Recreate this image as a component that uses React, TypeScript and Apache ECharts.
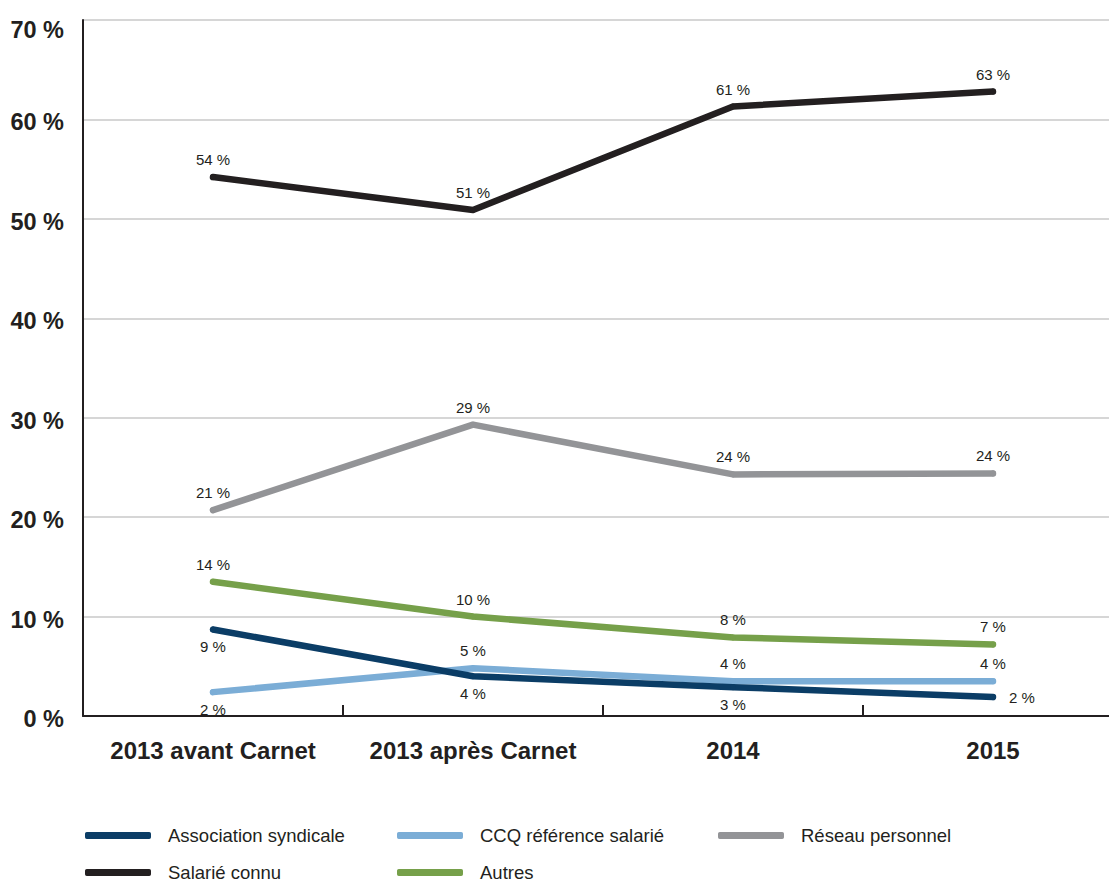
import React, { useEffect, useRef } from "react";
import * as echarts from "echarts";

const categories = ["2013 avant Carnet", "2013 après Carnet", "2014", "2015"];
const seriesNames = [
  "Association syndicale",
  "CCQ référence salarié",
  "Réseau personnel",
  "Salarié connu",
  "Autres",
];
const associationSyndicale = [8.7, 4.0, 2.9, 1.9];
const ccqReferenceSalarie = [2.4, 4.8, 3.5, 3.5];
const reseauPersonnel = [20.7, 29.3, 24.3, 24.4];
const salarieConnu = [54.2, 50.9, 61.3, 62.8];
const autres = [13.5, 10.0, 7.9, 7.2];
const yTicks = [0, 10, 20, 30, 40, 50, 60, 70];

const seriesValues = [associationSyndicale, ccqReferenceSalarie, reseauPersonnel, salarieConnu, autres];
const seriesColors = ["#0b3d66", "#7badd6", "#939497", "#231f20", "#76a04a"];
const labelPositions = [
  ["bottom", "bottom", "bottom", "right"],
  ["bottom", "top", "top", "top"],
  ["top", "top", "top", "top"],
  ["top", "top", "top", "top"],
  ["top", "top", "top", "top"],
];

const FONT = "'Liberation Sans', Arial, sans-serif";
const TEXT = "#231f20";

export default function App() {
  const ref = useRef<HTMLDivElement>(null);
  useEffect(() => {
    if (!ref.current) return;
    const chart = echarts.init(ref.current, undefined, { renderer: "svg" });
    const series = seriesNames.map((name, i) => ({
      name,
      type: "line",
      symbol: "circle",
      symbolSize: 6,
      showSymbol: true,
      lineStyle: { color: seriesColors[i], width: 6.5, cap: "round", join: "round" },
      itemStyle: { color: seriesColors[i], borderWidth: 0 },
      z: 10 - i,
      data: seriesValues[i].map((v, j) => ({
        value: v,
        label: {
          show: true,
          position: labelPositions[i][j],
          distance: labelPositions[i][j] === "right" ? 13 : 7,
          formatter: () => `${Math.round(v)} %`,
          fontFamily: FONT,
          fontSize: 15,
          color: TEXT,
        },
      })),
    }));
    const legendPos = [
      { left: 85, top: 826 },
      { left: 397, top: 826 },
      { left: 718, top: 826 },
      { left: 85, top: 863 },
      { left: 397, top: 863 },
    ];
    chart.setOption({
      animation: false,
      backgroundColor: "#ffffff",
      grid: {
        left: 83,
        top: 20,
        width: 1040,
        height: 696,
        containLabel: false,
        outerBoundsMode: "none",
      },
      xAxis: {
        type: "category",
        data: categories,
        boundaryGap: true,
        axisLine: { show: true, lineStyle: { color: TEXT, width: 2 } },
        axisTick: { show: true, inside: true, length: 11, lineStyle: { color: TEXT, width: 2 } },
        axisLabel: {
          interval: 0,
          margin: 22,
          fontFamily: FONT,
          fontWeight: "bold",
          fontSize: 24,
          color: TEXT,
        },
        splitLine: { show: false },
      },
      yAxis: {
        type: "value",
        min: yTicks[0],
        max: yTicks[yTicks.length - 1],
        interval: 10,
        axisLine: { show: true, lineStyle: { color: TEXT, width: 2 } },
        axisTick: { show: false },
        axisLabel: {
          margin: 19,
          fontFamily: FONT,
          fontWeight: "bold",
          fontSize: 23.5,
          color: TEXT,
          verticalAlign: "middle",
          padding: [6, 0, 0, 0],
          formatter: (v: number) => (v === 70 ? `{top|${v} %}` : `${v} %`),
          rich: {
            top: {
              fontFamily: FONT,
              fontWeight: "bold",
              fontSize: 23.5,
              color: TEXT,
              padding: [14, 0, 0, 0],
            },
          },
        },
        splitLine: { show: true, lineStyle: { color: "#c9c9c9", width: 1.5 } },
      },
      legend: seriesNames.map((name, i) => ({
        left: legendPos[i].left,
        top: legendPos[i].top,
        data: [name],
        icon: "roundRect",
        itemWidth: 66,
        itemHeight: 7,
        padding: 0,
        textStyle: {
          fontFamily: FONT,
          fontSize: 18.5,
          color: TEXT,
          padding: [0, 0, 0, 12],
        },
      })),
      series,
    });
    return () => chart.dispose();
  }, []);
  return (
    <div
      ref={ref}
      style={{ position: "absolute", left: 0, top: 0, width: 1109, height: 886 }}
    />
  );
}
